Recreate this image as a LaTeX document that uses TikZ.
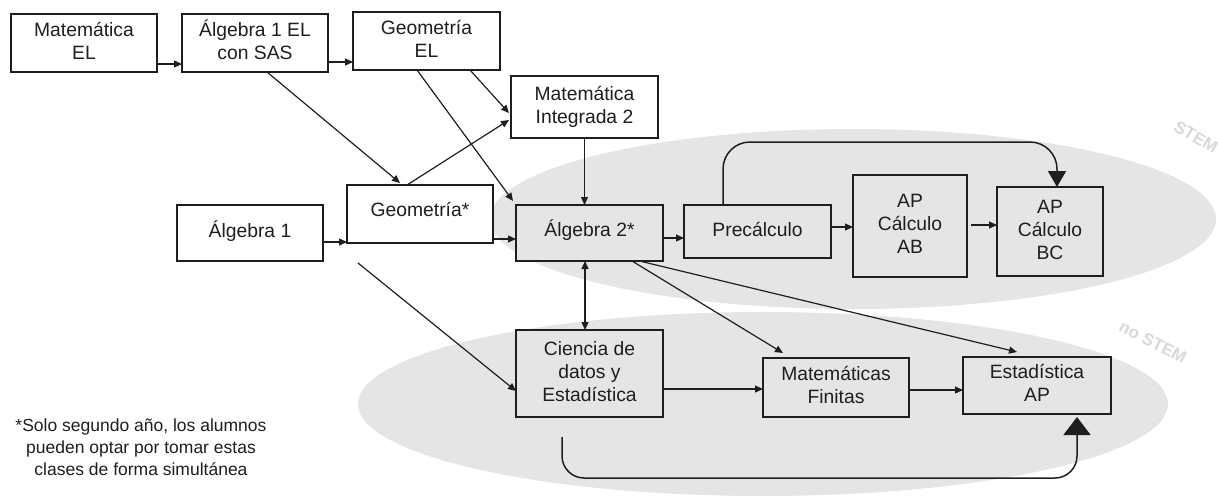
\documentclass[tikz,border=0pt]{standalone}
\usepackage{fontspec}
\setmainfont{Liberation Sans}
\usetikzlibrary{arrows.meta,calc}
\definecolor{ellgray}{RGB}{229,229,229}
\definecolor{boxgray}{RGB}{229,229,229}
\definecolor{wmgray}{RGB}{216,216,216}
\definecolor{ink}{RGB}{30,30,30}
\newcommand\bt[2]{\raisebox{#1}{\begin{tabular}{@{}c@{}}#2\end{tabular}}}
\begin{document}
\begin{tikzpicture}[x=1pt,y=-1pt,
  box/.style={draw=ink, line width=1.5pt, rectangle, inner sep=0pt, outer sep=0pt,
    font=\fontsize{19.3}{23}\selectfont, text=ink, fill=white},
  gbox/.style={box, fill=boxgray},
  arr/.style={draw=ink, line width=1.2pt, -{Triangle[length=8pt,width=7pt]}},
  darr/.style={draw=ink, line width=1.2pt, {Triangle[length=8pt,width=7pt]}-{Triangle[length=8pt,width=7pt]}},
  bigA/.style={draw=ink, line width=1.5pt, -{Triangle[length=16pt,width=18pt]}},
  bigB/.style={draw=ink, line width=1.5pt, -{Triangle[length=18pt,width=27pt]}},
  wmtxt/.style={text=wmgray, font=\bfseries\fontsize{17}{20}\selectfont, inner sep=0pt},
]
\useasboundingbox (0,0) rectangle (1218,501);

% groups
\fill[ellgray] (853,219) ellipse [x radius=363pt, y radius=90pt];
\fill[ellgray] (763,404) ellipse [x radius=405pt, y radius=92pt];
\node[wmtxt, rotate=-30] (stemlbl) at (1196,137) {STEM};
\node[wmtxt, rotate=-27] (nostemlbl) at (1153,342) {no STEM};

% boxes
\node[box, minimum width=146pt, minimum height=58pt] (matel) at (84,43) {\bt{-5pt}{Matemática\\EL}};
\node[box, minimum width=146pt, minimum height=58pt] (alg1el) at (255,43) {\bt{-5pt}{Álgebra 1 EL\\con SAS}};
\node[box, minimum width=147pt, minimum height=58pt] (geoel) at (426.5,41) {\bt{-7pt}{Geometría\\EL}};
\node[box, minimum width=147pt, minimum height=62pt] (mi2) at (584.5,107) {\bt{-2pt}{Matemática\\Integrada 2}};
\node[box, minimum width=146pt, minimum height=58pt] (geo) at (420,214) {\bt{10pt}{Geometría*}};
\node[box, minimum width=146pt, minimum height=56pt] (alg1) at (250,233) {\bt{7pt}{Álgebra 1}};
\node[gbox, minimum width=147pt, minimum height=56pt] (alg2) at (589.5,233) {\bt{9pt}{Álgebra 2*}};
\node[gbox, minimum width=147pt, minimum height=53pt] (pre) at (757.5,231.5) {\bt{5pt}{Precálculo}};
\node[gbox, minimum width=114pt, minimum height=102pt] (ab) at (910,226) {\bt{6pt}{AP\\Cálculo\\AB}};
\node[gbox, minimum width=106pt, minimum height=89pt] (bc) at (1050,231.5) {\bt{0pt}{AP\\Cálculo\\BC}};
\node[gbox, minimum width=147pt, minimum height=87pt] (cds) at (589.5,373.5) {\bt{-1pt}{Ciencia de\\datos y\\Estadística}};
\node[gbox, minimum width=146pt, minimum height=59pt] (mf) at (836,387.5) {\bt{-3pt}{Matemáticas\\Finitas}};
\node[gbox, minimum width=148pt, minimum height=57pt] (est) at (1037,385.5) {\bt{-3pt}{Estadística\\AP}};

% footnote
\node[font=\fontsize{17.5}{22}\selectfont, align=center, text=ink] (note) at (141,447)
  {*Solo segundo año, los alumnos\\pueden optar por tomar estas\\clases de forma simultánea};

% connectors
\draw[arr] ([yshift=-21pt]matel.east) -- ([yshift=-21pt]matel.east -| alg1el.west);
\draw[arr] ([yshift=-19pt]alg1el.east) -- ([yshift=-19pt]alg1el.east -| geoel.west);
\draw[arr] ([xshift=12pt]alg1el.south) -- ([xshift=-20pt,yshift=2pt]geo.north);
\draw[arr, shorten >=5pt] ([xshift=-9.5pt]geoel.south) -- (alg2.north west);
\draw[arr] ([xshift=43.5pt]geoel.south) -- ([yshift=-6pt,xshift=-2pt]mi2.west);
\draw[arr] ([xshift=-13pt]geo.north) -- ([yshift=-13pt,xshift=-2pt]mi2.west);
\draw[arr] (mi2.south) -- (mi2.south |- alg2.north);
\draw[arr] ([yshift=-9pt]alg1.east) -- ([yshift=-9pt]alg1.east -| geo.west);
\draw[arr] ([yshift=-25pt]geo.east) -- ([yshift=-25pt]geo.east -| alg2.west);
\draw[arr] ([yshift=-5pt]alg2.east) -- ([yshift=-5pt]alg2.east -| pre.west);
\draw[arr] ([yshift=4.5pt]pre.east) -- ([yshift=4.5pt]pre.east -| ab.west);
\draw[arr] ([xshift=4pt,yshift=1pt]ab.east) -- ([yshift=1pt]ab.east -| bc.west);
\draw[darr] ([xshift=-4.5pt]alg2.south) -- ([xshift=-4.5pt]alg2.south |- cds.north);
\draw[arr] ([xshift=42.5pt]alg2.south) -- ([xshift=-53pt,yshift=5pt]mf.north);
\draw[arr] ([xshift=50pt]alg2.south) -- ([xshift=-20pt,yshift=5pt]est.north);
\coordinate (freeA) at (358,263);
\draw[arr] (freeA) -- ([yshift=-17.5pt]cds.west);
\draw[arr] ([yshift=-15.5pt]cds.east) -- ([yshift=-15.5pt]cds.east -| mf.west);
\draw[arr] ([yshift=-2.5pt]mf.east) -- ([yshift=-2.5pt]mf.east -| est.west);

\coordinate (stemtop) at (1057,142);
\draw[bigA, rounded corners=27pt] ([xshift=39pt]pre.north west) |- (stemtop) -- ([xshift=7pt]bc.north);
\coordinate (cdsfoot) at (562,437);
\coordinate (nsbot) at (1077,478);
\draw[bigB, rounded corners=22pt, shorten >=3pt] (cdsfoot) |- (nsbot) -- ([xshift=40pt]est.south);
\end{tikzpicture}
\end{document}
